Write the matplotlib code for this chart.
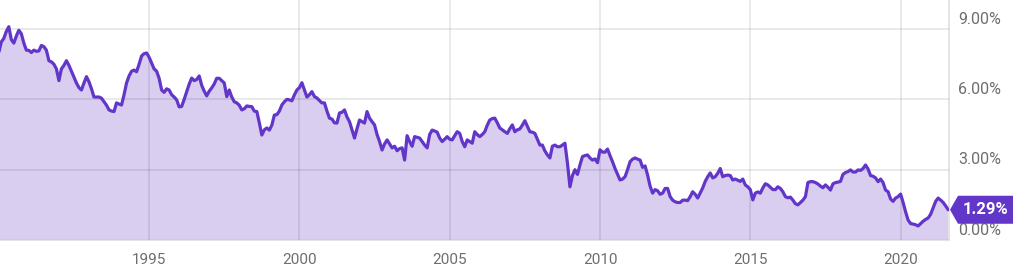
import matplotlib
matplotlib.use('Agg')  # no display

import matplotlib.pyplot as plt
import matplotlib.transforms as mtransforms
from matplotlib.patches import Polygon
import numpy as np

# Monthly 10-year yield (%), Jan 1990 onwards
START_YEAR = 1990
rates_1990s = [
    8.0, 8.45, 8.6, 8.9, 9.1, 8.55, 8.4, 8.7, 8.95, 8.8, 8.4, 8.1,        # 1990
    8.09, 8.0, 8.1, 8.05, 8.07, 8.3, 8.25, 8.1, 7.65, 7.6, 7.5, 7.3,      # 1991
    6.8, 7.3, 7.45, 7.65, 7.45, 7.2, 6.95, 6.7, 6.5, 6.4, 6.7, 6.97,      # 1992
    6.75, 6.45, 6.1, 6.1, 6.1, 6.05, 5.9, 5.75, 5.55, 5.5, 5.48, 5.85,    # 1993
    5.8, 5.76, 6.2, 6.7, 7.0, 7.2, 7.25, 7.18, 7.5, 7.85, 7.95, 7.98,     # 1994
    7.8, 7.55, 7.3, 7.2, 6.9, 6.4, 6.3, 6.45, 6.4, 6.2, 6.1, 5.98,        # 1995
    5.68, 5.7, 6.0, 6.33, 6.65, 6.91, 6.8, 6.85, 7.0, 6.6, 6.35, 6.15,    # 1996
    6.35, 6.49, 6.66, 6.9, 6.9, 6.8, 6.7, 6.12, 6.4, 6.1, 5.9, 5.85,      # 1997
    5.75, 5.55, 5.6, 5.72, 5.7, 5.69, 5.5, 5.48, 5.0, 4.48, 4.7, 4.78,    # 1998
    4.69, 4.9, 5.33, 5.35, 5.5, 5.76, 5.9, 6.0, 5.98, 5.94, 6.19, 6.4,    # 1999
]
rates_2000s = [
    6.5, 6.71, 6.4, 6.1, 6.2, 6.33, 6.12, 6.06, 5.95, 5.85, 5.85, 5.5,    # 2000
    5.2, 5.16, 5.0, 4.99, 5.42, 5.45, 5.55, 5.25, 5.05, 4.7, 4.35, 4.75,  # 2001
    5.12, 5.05, 4.99, 5.48, 5.2, 5.05, 4.91, 4.5, 4.2, 3.84, 4.1, 4.27,   # 2002
    4.1, 3.93, 4.0, 3.81, 3.9, 3.93, 3.41, 4.45, 4.2, 4.0, 4.41, 4.38,    # 2003
    4.35, 4.2, 4.05, 3.93, 4.5, 4.69, 4.65, 4.6, 4.35, 4.2, 4.3, 4.41,    # 2004
    4.3, 4.27, 4.45, 4.62, 4.55, 4.2, 3.98, 4.27, 4.2, 4.13, 4.62, 4.5,   # 2005
    4.41, 4.5, 4.62, 4.9, 5.12, 5.18, 5.2, 5.0, 4.78, 4.7, 4.62, 4.55,    # 2006
    4.75, 4.91, 4.62, 4.7, 4.74, 4.9, 5.09, 4.85, 4.62, 4.6, 4.55, 4.3,   # 2007
    4.05, 4.05, 3.8, 3.63, 3.5, 4.0, 4.05, 3.98, 3.98, 4.05, 4.13, 3.29,  # 2008
    2.27, 2.75, 3.0, 2.8, 3.2, 3.56, 3.6, 3.63, 3.5, 3.41, 3.46, 3.3,     # 2009
]
rates_2010s = [
    3.85, 3.75, 3.75, 3.88, 3.6, 3.34, 3.05, 2.8, 2.56, 2.6, 2.7, 3.0,    # 2010
    3.34, 3.45, 3.5, 3.45, 3.41, 3.1, 3.16, 2.77, 2.3, 2.0, 2.15, 2.1,    # 2011
    1.95, 2.0, 2.2, 2.2, 1.85, 1.7, 1.63, 1.6, 1.6, 1.7, 1.7, 1.68,       # 2012
    1.85, 2.06, 1.95, 1.79, 2.0, 2.22, 2.5, 2.7, 2.86, 2.65, 2.7, 2.85,   # 2013
    3.05, 2.7, 2.75, 2.77, 2.75, 2.56, 2.6, 2.55, 2.5, 2.6, 2.35, 2.27,   # 2014
    2.15, 1.71, 2.0, 2.05, 2.0, 2.22, 2.4, 2.35, 2.25, 2.15, 2.15, 2.27,  # 2015
    2.2, 2.06, 1.85, 1.8, 1.83, 1.7, 1.55, 1.5, 1.6, 1.7, 1.85, 2.45,     # 2016
    2.49, 2.49, 2.45, 2.39, 2.3, 2.23, 2.35, 2.25, 2.13, 2.4, 2.45, 2.47, # 2017
    2.5, 2.8, 2.88, 2.92, 2.99, 2.9, 2.9, 2.99, 2.97, 3.05, 3.2, 3.03,    # 2018
    2.75, 2.72, 2.65, 2.49, 2.6, 2.45, 2.13, 2.06, 1.75, 1.65, 1.79, 1.85, # 2019
]
rates_2020s = [
    1.96, 1.6, 1.2, 0.85, 0.7, 0.68, 0.65, 0.6, 0.7, 0.8, 0.88, 0.94,     # 2020
    1.1, 1.37, 1.65, 1.79, 1.7, 1.6, 1.45, 1.29,                          # 2021
]

x_ticks = [1995, 2000, 2005, 2010, 2015, 2020]
y_ticks = [0, 3, 6, 9]
last_label = "1.29%"

# Colours
LINE_COLOR = '#6236c8'
FILL_COLOR = '#d9cdf0'
EDGE_COLOR = '#e3e3e3'
TEXT_COLOR = '#6e6e6e'

rates = np.array(rates_1990s + rates_2000s + rates_2010s + rates_2020s)
years = START_YEAR + np.arange(len(rates)) / 12

plt.rcParams['font.family'] = ['Roboto', 'DejaVu Sans']

fig = plt.figure(figsize=(10.24, 2.77), dpi=100)
ax = fig.add_axes([0, 37 / 277, 949 / 1024, 240 / 277])

ax.fill_between(years, rates, 0, color=FILL_COLOR, lw=0, zorder=1)
ax.plot(years, rates, color=LINE_COLOR, lw=2.3, zorder=3,
        solid_joinstyle='round', solid_capstyle='round')

ax.set_xlim(1990.04, 2021.61)
ax.set_ylim(0, 10.24)

# Grid on top of the fill, under the line
ax.set_xticks(x_ticks)
ax.set_yticks(y_ticks)
ax.set_axisbelow(False)
ax.grid(True, color='#000000', alpha=0.09, lw=1.3)
ax.tick_params(axis='x', length=0, pad=9, labelsize=11, labelcolor=TEXT_COLOR)
ax.tick_params(axis='y', length=0, labelleft=False)

for side in ['top', 'left']:
    ax.spines[side].set_visible(False)
for side in ['right', 'bottom']:
    ax.spines[side].set_color(EDGE_COLOR)
    ax.spines[side].set_linewidth(1.3)

# Right-hand percentage labels, sitting just above their grid lines
for v in y_ticks:
    ax.annotate(f'{v:.2f}%', xy=(1, v), xycoords=('axes fraction', 'data'),
                xytext=(6.5, 7), textcoords='offset points',
                ha='left', va='center', fontsize=11.5, color=TEXT_COLOR,
                annotation_clip=False, zorder=4)

# Last-value tag
tag_trans = fig.dpi_scale_trans + mtransforms.ScaledTranslation(
    1.0, rates[-1], ax.get_yaxis_transform())
tag = Polygon([(0.01, 0), (0.09, 0.14), (0.64, 0.14), (0.64, -0.14), (0.09, -0.14)],
              closed=True, facecolor=LINE_COLOR, edgecolor='none',
              transform=tag_trans, clip_on=False, zorder=5)
ax.add_patch(tag)
ax.text(0.365, 0, last_label, transform=tag_trans, ha='center', va='center',
        color='white', fontsize=12, fontweight='bold', zorder=6, clip_on=False)

plt.savefig('out.png', dpi=100)
plt.close()
